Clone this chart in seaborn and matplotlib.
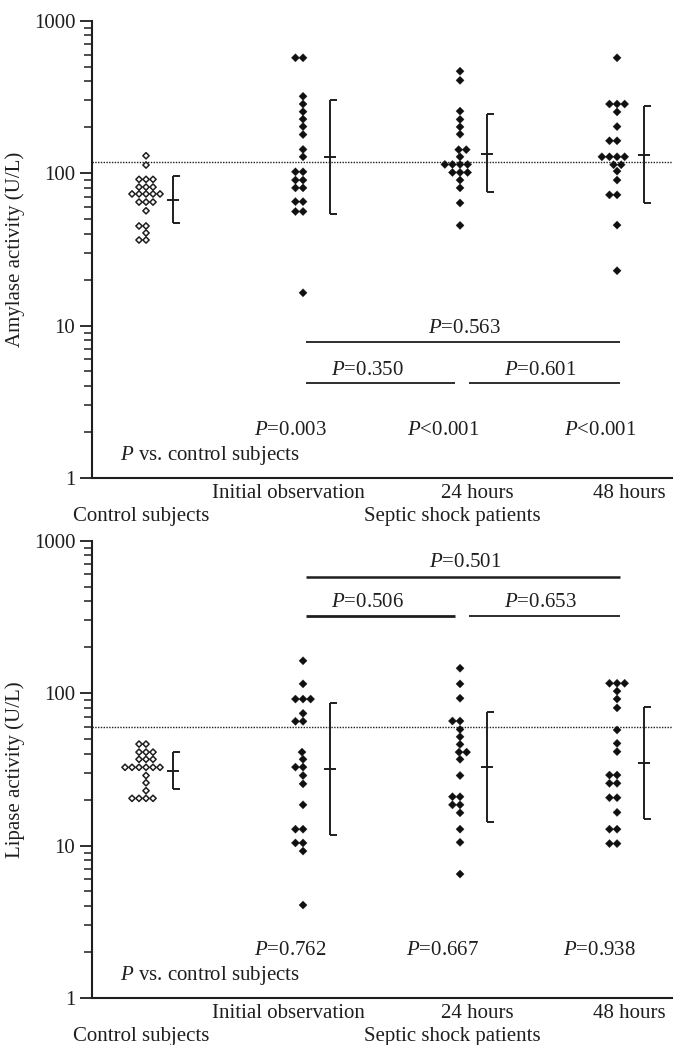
import numpy as np
import pandas as pd
import matplotlib
matplotlib.use("Agg")
import matplotlib.pyplot as plt
import matplotlib.transforms as mtransforms
from matplotlib.ticker import FixedLocator, FixedFormatter, NullFormatter
import seaborn as sns

# ---------------- data ----------------
groups = ["Control subjects", "Initial observation", "24 hours", "48 hours"]

amy_control = [130, 113, 91, 91, 91, 81, 81, 81, 73, 73, 73, 73, 73,
               64.6, 64.6, 64.6, 56.6, 45, 45, 40.5, 36.4, 36.4]
amy_initial = [571, 571, 319, 284, 253, 226, 202, 179, 143, 128, 102, 102,
               90, 90, 80, 80, 65, 65, 56, 56, 16.4]
amy_24h = [466, 406, 255, 225, 201, 180, 142.5, 142.5, 128, 114, 114, 114, 114,
           101, 101, 101, 90, 80, 63.7, 45.4]
amy_48h = [571, 284, 284, 284, 252, 202, 163, 163, 128, 128, 128, 128,
           113.5, 113.5, 103, 90, 72, 72, 45.6, 22.9]

lip_control = [46.3, 46.3, 41, 41, 41, 36.8, 36.8, 36.8,
               32.6, 32.6, 32.6, 32.6, 32.6, 32.6, 28.8, 25.8, 22.9,
               20.4, 20.4, 20.4, 20.4]
lip_initial = [163, 115, 91.4, 91.4, 91.4, 73.6, 65.3, 65.3, 41, 36.8, 32.7, 32.7,
               28.8, 25.4, 18.5, 12.8, 12.8, 10.4, 10.4, 9.2, 4.07]
lip_24h = [145.6, 115, 92.5, 65.6, 65.6, 57.8, 51.7, 46.1, 41, 41, 36.8, 28.8,
           20.9, 20.9, 18.5, 18.5, 16.4, 12.8, 10.5, 6.5]
lip_48h = [116, 116, 116, 103, 91.5, 80, 57.3, 46.8, 41.3, 29, 29, 25.6, 25.6,
           20.6, 20.6, 16.5, 12.8, 12.8, 10.3, 10.3]

amy_median = [66.5, 128.5, 134, 131.5]
amy_low = [46.8, 54, 74.8, 63.4]
amy_high = [96, 301, 243, 276]
lip_median = [31, 31.8, 32.6, 34.9]
lip_low = [23.4, 11.8, 14.3, 14.9]
lip_high = [41, 86.5, 75.5, 81.5]

amy_ref = 118
lip_ref = 60

amy_p_vs_control = ["$P$=0.003", "$P$<0.001", "$P$<0.001"]
lip_p_vs_control = ["$P$=0.762", "$P$=0.667", "$P$=0.938"]
amy_pairs = ["$P$=0.563", "$P$=0.350", "$P$=0.601"]
lip_pairs = ["$P$=0.501", "$P$=0.506", "$P$=0.653"]

tick_values = [1, 10, 100, 1000]
tick_labels = ["1", "10", "100", "1000"]

# ---------------- style ----------------
sns.set_style("ticks")
plt.rcParams["font.family"] = ["Liberation Serif", "DejaVu Serif"]
plt.rcParams["mathtext.fontset"] = "custom"
plt.rcParams["mathtext.rm"] = "Liberation Serif"
plt.rcParams["mathtext.it"] = "Liberation Serif:italic"
INK = "#1e1e1e"
FS = 15

# swarm packing sizes (pt) and final drawn marker sizes (pt)
CTRL_PACK, CTRL_DRAW, CTRL_LW = 3.7, 4.5, 1.1
PAT_PACK, PAT_DRAW, PAT_LW = 5.0, 5.9, 0.2

fig = plt.figure(figsize=(6.81, 10.45), dpi=100)
ax_top = fig.add_axes([0.1351, 0.5426, 0.8517, 0.4376])
ax_bot = fig.add_axes([0.1351, 0.0450, 0.8517, 0.4376])


def panel(ax, vals, med, lo, hi, ref, ylabel, pvs, pairs, pair_line_y, pair_text_y, pair_lw):
    df_c = pd.DataFrame({"group": groups[0], "value": vals[0]})
    df_p = pd.DataFrame({
        "group": np.repeat(groups[1:], [len(v) for v in vals[1:]]),
        "value": np.concatenate([np.asarray(v, float) for v in vals[1:]]),
    })
    sns.swarmplot(data=df_c, x="group", y="value", order=groups, ax=ax,
                  marker=(4, 0, 0), size=CTRL_PACK, color="white",
                  edgecolor=INK, linewidth=CTRL_LW, log_scale=True, zorder=3)
    sns.swarmplot(data=df_p, x="group", y="value", order=groups, ax=ax,
                  marker=(4, 0, 0), size=PAT_PACK, color="#101010",
                  edgecolor="#101010", linewidth=PAT_LW, log_scale=True, zorder=3)

    ax.set_yscale("log")
    ax.set_ylim(1, 1000)
    ax.set_xlim(-0.344, 3.35)
    ax.set_xticks([])
    ax.set_xlabel("")

    # median / range brackets
    xs = np.arange(len(groups)) + 0.17
    ax.vlines(xs, lo, hi, color=INK, lw=1.4, zorder=2)
    ax.hlines(lo, xs, xs + 0.045, color=INK, lw=1.4, zorder=2)
    ax.hlines(hi, xs, xs + 0.045, color=INK, lw=1.4, zorder=2)
    ax.hlines(med, xs - 0.035, xs + 0.04, color=INK, lw=1.4, zorder=2)

    # reference line
    ax.axhline(ref, color=INK, lw=1.0, ls=(0, (1, 1)), zorder=1)

    # y axis
    ax.yaxis.set_major_locator(FixedLocator(tick_values))
    ax.yaxis.set_major_formatter(FixedFormatter(tick_labels))
    minors = [m * 10 ** d for d in range(3) for m in range(2, 10)]
    ax.yaxis.set_minor_locator(FixedLocator(minors))
    ax.yaxis.set_minor_formatter(NullFormatter())
    ax.tick_params(axis="y", which="major", length=9, width=1.3, colors=INK,
                   labelsize=FS, pad=3)
    ax.tick_params(axis="y", which="minor", length=6, width=1.1, colors=INK)
    ax.tick_params(axis="x", length=0)
    ax.set_ylabel(ylabel, fontsize=FS, color=INK)
    ax.yaxis.set_label_coords(-0.116, 0.5)

    sns.despine(ax=ax)
    for s in ("left", "bottom"):
        ax.spines[s].set_linewidth(1.5)
        ax.spines[s].set_color(INK)

    # P vs control row
    for x, t in zip([0.92, 1.89, 2.89], pvs):
        ax.text(x, 2.06, t, ha="center", va="center", fontsize=FS, color=INK)
    ax.text(0.41, 1.41, "$P$ vs. control subjects", ha="center", va="center",
            fontsize=FS, color=INK)

    # pairwise comparisons
    spans = [(1.02, 3.02), (1.02, 1.97), (2.06, 3.02)]
    text_x = [2.03, 1.41, 2.51]
    line_y = [pair_line_y[0], pair_line_y[1], pair_line_y[1]]
    txt_y = [pair_text_y[0], pair_text_y[1], pair_text_y[1]]
    for (x0, x1), tx, ly, tyy, t, lw in zip(spans, text_x, line_y, txt_y, pairs, pair_lw):
        ax.hlines(ly, x0, x1, color=INK, lw=lw)
        ax.text(tx, tyy, t, ha="center", va="center", fontsize=FS, color=INK)

    # category labels below axis
    trans = mtransforms.blended_transform_factory(ax.transData, ax.transAxes)
    for x, t in zip([0.91, 2.11, 3.08], groups[1:]):
        ax.text(x, -0.033, t, transform=trans, ha="center", va="center",
                fontsize=FS, color=INK, clip_on=False)
    ax.text(-0.03, -0.085, "Control subjects", transform=trans, ha="center",
            va="center", fontsize=FS, color=INK, clip_on=False)
    ax.text(1.95, -0.085, "Septic shock patients", transform=trans, ha="center",
            va="center", fontsize=FS, color=INK, clip_on=False)


panel(ax_top, [amy_control, amy_initial, amy_24h, amy_48h],
      amy_median, amy_low, amy_high, amy_ref, "Amylase activity (U/L)",
      amy_p_vs_control, amy_pairs, (7.83, 4.2), (9.6, 5.1), (1.3, 1.3, 1.3))
panel(ax_bot, [lip_control, lip_initial, lip_24h, lip_48h],
      lip_median, lip_low, lip_high, lip_ref, "Lipase activity (U/L)",
      lip_p_vs_control, lip_pairs, (578, 321), (714, 396), (1.8, 2.0, 1.3))

# compute the swarm layout once with the packing size, then freeze it and
# draw the markers at their final size
fig.canvas.draw()
for ax in (ax_top, ax_bot):
    for coll in ax.collections:
        if "draw" in coll.__dict__:
            del coll.__dict__["draw"]
            n = len(coll.get_offsets())
            fc = coll.get_facecolor()
            is_ctrl = len(fc) and fc[0][0] > 0.9
            size = CTRL_DRAW if is_ctrl else PAT_DRAW
            coll.set_sizes(np.full(n, size ** 2))

fig.savefig("out.png", dpi=100)
